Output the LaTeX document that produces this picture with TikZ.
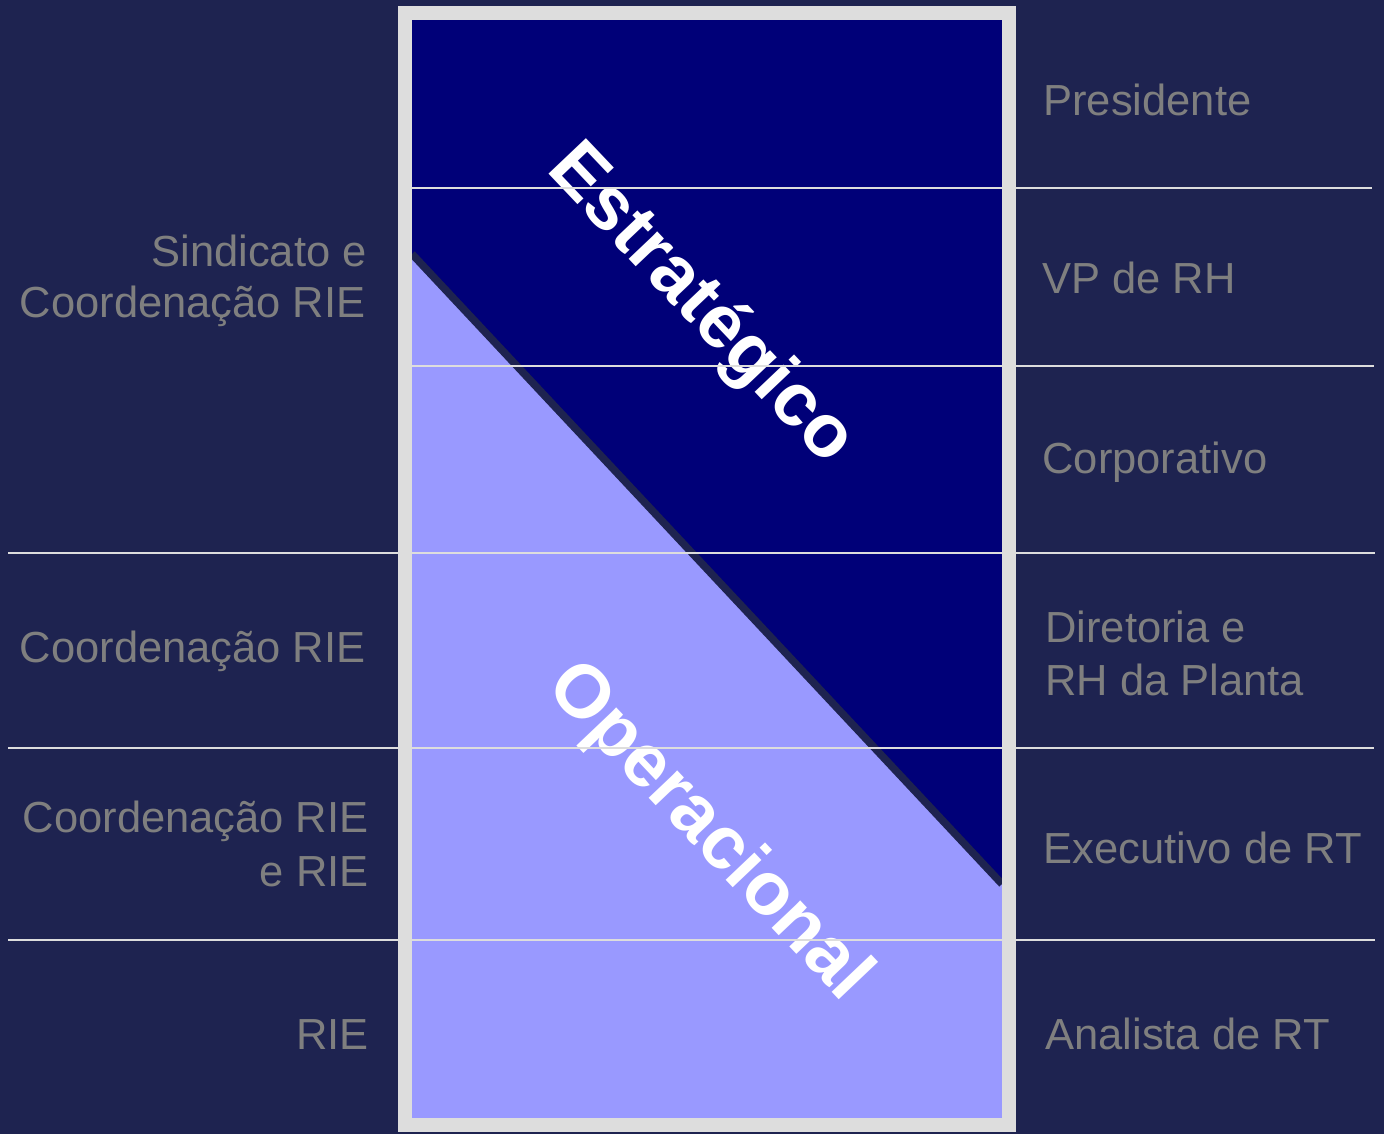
\documentclass[tikz,border=0pt]{standalone}
\usepackage{fontspec}
\setmainfont{Liberation Sans}
\definecolor{bg}{HTML}{1E2350}
\definecolor{framegray}{HTML}{DDDDDD}
\definecolor{strat}{HTML}{000078}
\definecolor{oper}{HTML}{9999FF}
\definecolor{lblgray}{HTML}{7F7F7F}
\begin{document}
\begin{tikzpicture}[x=0.5pt,y=-0.5pt,
  lbl/.style={text=lblgray, font=\fontsize{21.75}{26}\selectfont, inner sep=0pt},
  big/.style={text=white, font=\fontsize{37.5}{40}\selectfont\bfseries, inner sep=0pt, rotate=-46.5, anchor=base},
  rulel/.style={draw=framegray, line width=1.25pt},
  edge/.style={draw=bg, line width=3.75pt}]
\fill[bg] (0,0) rectangle (1384,1134);
\useasboundingbox (0,0) rectangle (1384,1134);
% inner panel
\fill[strat] (412,20) rectangle (1002,1118);
\fill[oper] (412,254) -- (1002,884) -- (1002,1118) -- (412,1118) -- cycle;
\coordinate (dA) at (412,254);
\coordinate (dB) at (1002,884);
\begin{scope}
  \clip (412,20) rectangle (1002,1118);
  \draw[edge] (dA) -- (dB);
\end{scope}
% rotated titles
\node[big] (estr) at (686,319) {Estratégico};
\node[big] (oper) at (694,846) {Operacional};
% horizontal rules
\draw[rulel] (412,188) -- (1372,188);
\draw[rulel] (412,366) -- (1374,366);
\draw[rulel] (8,553) -- (1375,553);
\draw[rulel] (8,748) -- (1374,748);
\draw[rulel] (8,940) -- (1375,940);
% frame
\draw[framegray, line width=7pt] (405,13.5) rectangle (1009,1125);
% right labels
\node[lbl, anchor=base west] (pres) at (1043,116) {Presidente};
\node[lbl, anchor=base west] (vp) at (1042,293) {VP de RH};
\node[lbl, anchor=base west] (corp) at (1042,473) {Corporativo};
\node[lbl, anchor=base west] (dirA) at (1045,642) {Diretoria e};
\node[lbl, anchor=base west] (dirB) at (1045,695) {RH da Planta};
\node[lbl, anchor=base west] (exec) at (1043,863) {Executivo de RT};
\node[lbl, anchor=base west] (anal) at (1045,1049) {Analista de RT};
% left labels
\node[lbl, anchor=base east] (sindA) at (367,266) {Sindicato e};
\node[lbl, anchor=base east] (sindB) at (366,317) {Coordenação RIE};
\node[lbl, anchor=base east] (coord) at (366,662) {Coordenação RIE};
\node[lbl, anchor=base east] (crA) at (369,832) {Coordenação RIE};
\node[lbl, anchor=base east] (crB) at (369,886) {e RIE};
\node[lbl, anchor=base east] (rie) at (369,1049) {RIE};
\end{tikzpicture}
\end{document}
